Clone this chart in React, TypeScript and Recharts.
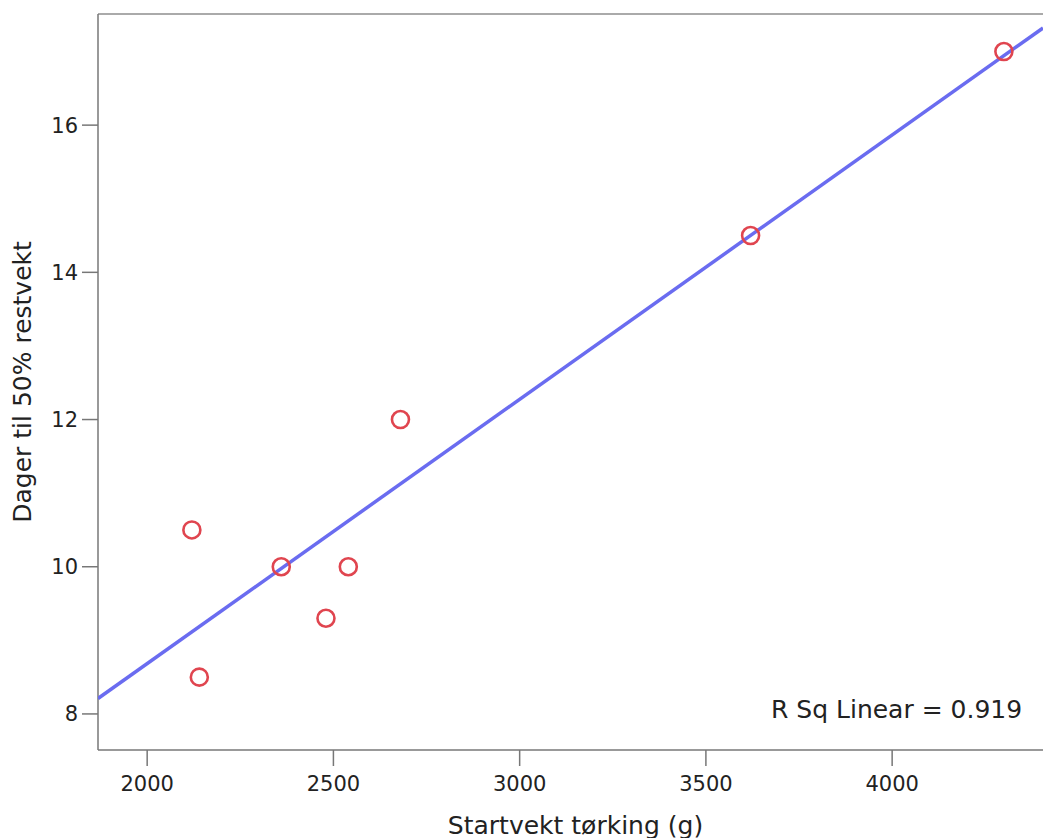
import React from "react";
import {
  ComposedChart,
  Scatter,
  XAxis,
  YAxis,
  ReferenceLine,
  ReferenceDot,
  Label,
} from "recharts";

// Data
const startWeight = [2120, 2140, 2360, 2480, 2540, 2680, 3620, 4300];
const daysTo50 = [10.5, 8.5, 10, 9.3, 10, 12, 14.5, 17];

// Fit line endpoints (at the plot edges)
const fitX = [1868, 4405];
const fitY = [8.21, 17.32];

const xTicks = [2000, 2500, 3000, 3500, 4000];
const yTicks = [8, 10, 12, 14, 16];
const xDomain = [1868, 4405];
const yDomain = [7.51, 17.51];

const xTitle = "Startvekt tørking (g)";
const yTitle = "Dager til 50% restvekt";
const fitNote = "R Sq Linear = 0.919";

const points = startWeight.map((x, i) => ({ x, y: daysTo50[i] }));
const fitLine = fitX.map((x, i) => ({ x, y: fitY[i] }));

const FONT = "'DejaVu Sans', Verdana, sans-serif";
const AXIS_COLOR = "#777777";
const TEXT_COLOR = "#222222";

const Circle = (props: any) => {
  const { cx, cy } = props;
  if (cx == null || cy == null) return <g />;
  return (
    <circle cx={cx} cy={cy} r={8.5} fill="none" stroke="#e0454f" strokeWidth={2.6} />
  );
};

const NoShape = () => <g />;

export default function App() {
  return (
    <div style={{ position: "absolute", left: 0, top: 0, background: "#fff" }}>
      <ComposedChart
        width={1043}
        height={838}
        margin={{ top: 14, right: 0, left: 0, bottom: 0 }}
      >
        <XAxis
          type="number"
          dataKey="x"
          domain={xDomain}
          ticks={xTicks}
          allowDataOverflow
          height={88}
          stroke={AXIS_COLOR}
          strokeWidth={1.5}
          tickSize={16}
          tick={{ fill: TEXT_COLOR, fontSize: 21, fontFamily: FONT, dy: 8 }}
        >
          <Label
            content={(p: any) => {
              const vb = p.viewBox || {};
              return (
                <text
                  x={(vb.x || 0) + (vb.width || 0) / 2 + 5}
                  y={834}
                  textAnchor="middle"
                  fill={TEXT_COLOR}
                  fontSize={25}
                  fontFamily={FONT}
                >
                  {xTitle}
                </text>
              );
            }}
          />
        </XAxis>
        <YAxis
          type="number"
          dataKey="y"
          domain={yDomain}
          ticks={yTicks}
          allowDataOverflow
          width={98}
          stroke={AXIS_COLOR}
          strokeWidth={1.5}
          tickSize={16}
          tick={{ fill: TEXT_COLOR, fontSize: 21, fontFamily: FONT, dx: -2 }}
        >
          <Label
            content={(p: any) => {
              const vb = p.viewBox || {};
              const cy = (vb.y || 0) + (vb.height || 0) / 2;
              const cx = 31;
              return (
                <text
                  x={cx}
                  y={cy}
                  transform={`rotate(-90, ${cx}, ${cy})`}
                  textAnchor="middle"
                  fill={TEXT_COLOR}
                  fontSize={25}
                  fontFamily={FONT}
                >
                  {yTitle}
                </text>
              );
            }}
          />
        </YAxis>
        <ReferenceLine y={yDomain[1]} stroke="#aaaaaa" strokeWidth={2} />
        <Scatter
          data={fitLine}
          line={{ stroke: "#6a6cf0", strokeWidth: 3.5 }}
          lineType="joint"
          shape={NoShape}
          isAnimationActive={false}
        />
        <Scatter data={points} shape={Circle} isAnimationActive={false} />
        <ReferenceDot
          x={4349}
          y={8}
          r={0}
          stroke="none"
          fill="none"
          label={(p: any) => {
            const vb = p.viewBox || {};
            return (
              <text
                x={vb.x}
                y={(vb.y || 0) + 4}
                textAnchor="end"
                fill={TEXT_COLOR}
                fontSize={25}
                fontFamily={FONT}
              >
                {fitNote}
              </text>
            );
          }}
        />
      </ComposedChart>
    </div>
  );
}
